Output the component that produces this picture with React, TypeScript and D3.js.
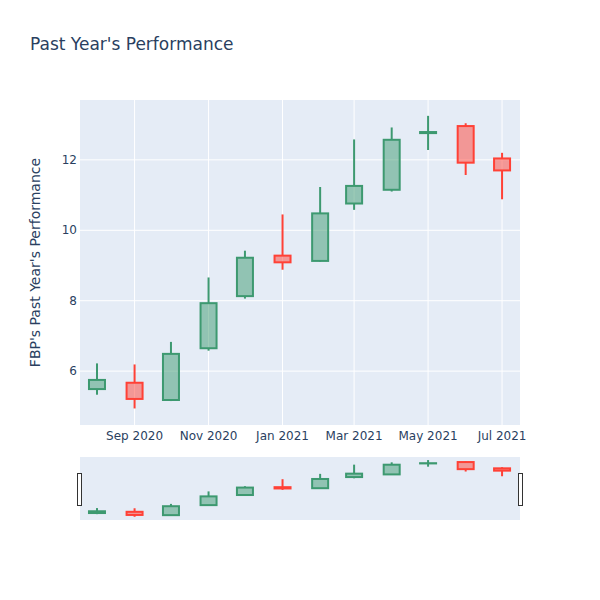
import React from "react";
import * as d3 from "d3";

const months = ["2020-08-01","2020-09-01","2020-10-01","2020-11-01","2020-12-01","2021-01-01","2021-02-01","2021-03-01","2021-04-01","2021-05-01","2021-06-01","2021-07-01"];
const opens = [5.49, 5.67, 5.18, 6.65, 8.13, 9.28, 9.13, 10.76, 11.15, 12.76, 12.96, 12.04];
const highs = [6.22, 6.19, 6.83, 8.66, 9.42, 10.45, 11.23, 12.58, 12.92, 13.25, 13.04, 12.20];
const lows = [5.33, 4.94, 5.15, 6.58, 8.06, 8.88, 9.11, 10.58, 11.10, 12.28, 11.57, 10.88];
const closes = [5.75, 5.21, 6.49, 7.93, 9.22, 9.09, 10.48, 11.26, 12.57, 12.79, 11.92, 11.70];
const yTicks = [6, 8, 10, 12];

const INC = "#3D9970";
const DEC = "#FF4136";
const FONT = "'DejaVu Sans', verdana, arial, sans-serif";
const TXT = "#2a3f5f";

export default function App() {
  const data = months.map((m, i) => ({
    date: new Date(m + "T00:00:00Z"),
    open: opens[i], high: highs[i], low: lows[i], close: closes[i],
  }));
  const x = d3.scaleUtc()
    .domain([new Date(Date.UTC(2020, 6, 18)), new Date(Date.UTC(2021, 6, 15, 19))])
    .range([80, 520]);
  const y = d3.scaleLinear().domain([4.47, 13.7]).range([425, 100]);
  const ys = d3.scaleLinear().domain([4.47, 13.7]).range([520, 457]);
  const xTicks = x.ticks(d3.utcMonth.every(2)!);
  const fmt = d3.utcFormat("%b %Y");
  const halfW = 8;

  const candles = (yy: d3.ScaleLinear<number, number>, key: string) =>
    data.map((d, i) => {
      const inc = d.close >= d.open;
      const c = inc ? INC : DEC;
      const cx = x(d.date);
      const top = yy(Math.max(d.open, d.close));
      const bot = yy(Math.min(d.open, d.close));
      return (
        <g key={key + i}>
          <line x1={cx} x2={cx} y1={yy(d.high)} y2={top} stroke={c} strokeWidth={2} />
          <line x1={cx} x2={cx} y1={bot} y2={yy(d.low)} stroke={c} strokeWidth={2} />
          <rect x={cx - halfW} y={top} width={halfW * 2} height={Math.max(bot - top, 0.01)}
            fill={c} fillOpacity={0.5} stroke={c} strokeWidth={2} />
        </g>
      );
    });

  return (
    <svg width={600} height={600} style={{ position: "absolute", left: 0, top: 0, background: "#fff" }} fontFamily={FONT}>
      <text x={30} y={50} fontSize={17} fill={TXT}>Past Year's Performance</text>
      <rect x={80} y={100} width={440} height={325} fill="#E5ECF6" />
      {yTicks.map((t) => (
        <g key={"y" + t}>
          <line x1={80} x2={520} y1={y(t)} y2={y(t)} stroke="#fff" strokeWidth={1} />
          <text x={77} y={y(t)} dy="0.35em" textAnchor="end" fontSize={12} fill={TXT}>{t}</text>
        </g>
      ))}
      {xTicks.map((t, i) => (
        <g key={"x" + i}>
          <line x1={x(t)} x2={x(t)} y1={100} y2={425} stroke="#fff" strokeWidth={1} />
          <text x={x(t)} y={440} textAnchor="middle" fontSize={12} fill={TXT}>{fmt(t)}</text>
        </g>
      ))}
      <defs>
        <clipPath id="mainclip"><rect x={80} y={100} width={440} height={325} /></clipPath>
        <clipPath id="slideclip"><rect x={80} y={457} width={440} height={63} /></clipPath>
      </defs>
      <g clipPath="url(#mainclip)">{candles(y, "m")}</g>
      <text transform={`translate(40,262.5) rotate(-90)`} textAnchor="middle" fontSize={14} fill={TXT}>FBP's Past Year's Performance</text>
      <rect x={80} y={457} width={440} height={63} fill="#E5ECF6" />
      <g clipPath="url(#slideclip)">{candles(ys, "s")}</g>
      <rect x={77.5} y={473.5} width={4} height={32} fill="#fff" stroke="#333" strokeWidth={1} />
      <rect x={518.5} y={473.5} width={4} height={32} fill="#fff" stroke="#333" strokeWidth={1} />
    </svg>
  );
}
